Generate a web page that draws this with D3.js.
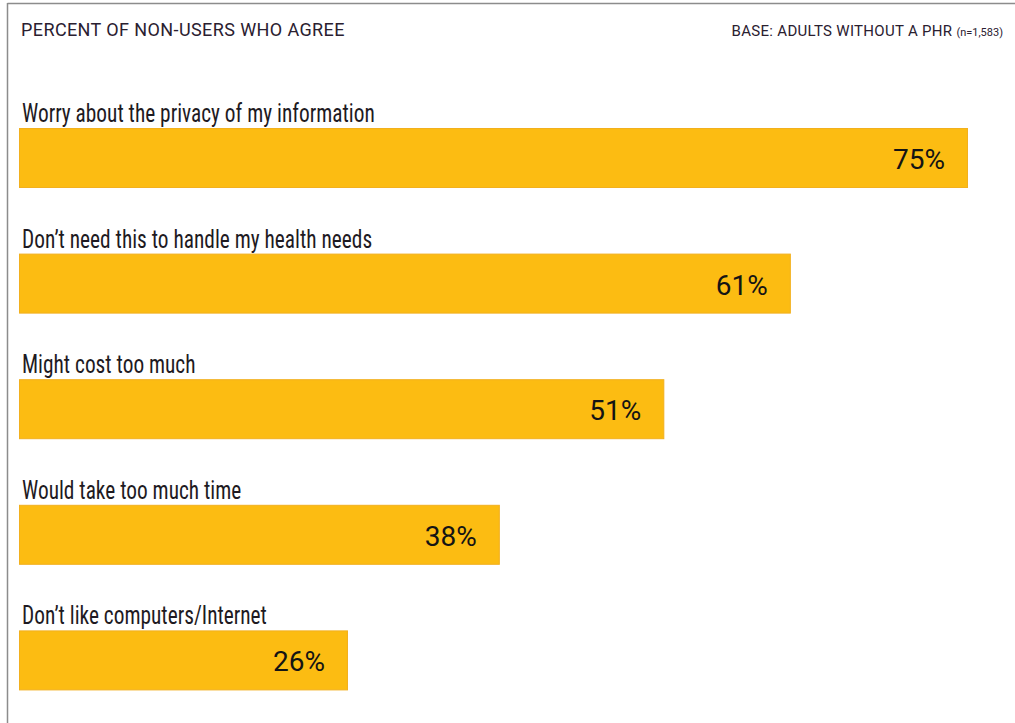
<!DOCTYPE html>
<html>
<head>
<meta charset="utf-8">
<script src="https://cdn.jsdelivr.net/npm/d3@7"></script>
<style>
  html, body { margin: 0; padding: 0; background: #fff; }
  svg { display: block; }
</style>
</head>
<body>
<svg id="chart" width="1015" height="723"></svg>
<script>
const categories = [
  "Worry about the privacy of my information",
  "Don’t need this to handle my health needs",
  "Might cost too much",
  "Would take too much time",
  "Don’t like computers/Internet"
];
const values = [75, 61, 51, 38, 26];
const valueLabels = ["75%", "61%", "51%", "38%", "26%"];
const titleText = "PERCENT OF NON-USERS WHO AGREE";
const baseText = "BASE: ADULTS WITHOUT A PHR";
const baseN = "(n=1,583)";

const svg = d3.select("#chart");
const W = 1015, H = 723;

// frame: top and left lines
svg.append("line").attr("x1", 7.5).attr("x2", W).attr("y1", 3.5).attr("y2", 3.5)
  .attr("stroke", "#8c8c8c").attr("stroke-width", 1.5);
svg.append("line").attr("x1", 7.5).attr("x2", 7.5).attr("y1", 3).attr("y2", H)
  .attr("stroke", "#8c8c8c").attr("stroke-width", 1.5);

svg.append("text").attr("x", 21).attr("y", 36)
  .attr("font-family", "Roboto, 'Liberation Sans', sans-serif")
  .attr("font-size", 18).attr("letter-spacing", 0.4).attr("fill", "#2a2030")
  .text(titleText);

const base = svg.append("text").attr("x", 1003).attr("y", 36)
  .attr("text-anchor", "end")
  .attr("font-family", "Roboto, 'Liberation Sans', sans-serif")
  .attr("fill", "#2a2030");
base.append("tspan").attr("font-size", 15).attr("letter-spacing", 0.3).text(baseText + " ");
base.append("tspan").attr("font-size", 11).text(baseN);

const x = d3.scaleLinear().domain([0, 75]).range([19, 968]);
const y = d3.scaleBand().domain(categories).range([103, 731]).paddingInner(0).paddingOuter(0);
const barTop = 25, barH = 60;

const g = svg.append("g");
const rows = g.selectAll("g.row").data(categories).join("g").attr("class", "row")
  .attr("transform", d => `translate(0,${y(d)})`);

rows.append("rect")
  .attr("x", x(0) + 0.5)
  .attr("y", barTop + 0.5)
  .attr("width", (d, i) => x(values[i]) - x(0) - 1)
  .attr("height", barH - 1)
  .attr("fill", "#fcbc12")
  .attr("stroke", "#f2b01e")
  .attr("stroke-width", 1);

const labels = rows.append("text")
  .attr("x", 0).attr("y", 0)
  .attr("font-family", "'Liberation Sans Narrow', 'Roboto Condensed', 'DejaVu Sans Condensed', sans-serif")
  .attr("font-size", 25).attr("fill", "#1e1a22")
  .text(d => d);

// condensed look: squeeze horizontally so the first label spans like the reference
const firstLen = labels.node().getComputedTextLength();
const sx = 353 / firstLen;
labels.attr("transform", `translate(22,${barTop - 6}) scale(${sx},1)`);

rows.append("text")
  .attr("x", (d, i) => x(values[i]) - 23)
  .attr("y", barTop + 41)
  .attr("text-anchor", "end")
  .attr("font-family", "Roboto, 'Liberation Sans', sans-serif")
  .attr("font-size", 28).attr("fill", "#141414")
  .text((d, i) => valueLabels[i]);
</script>
</body>
</html>
